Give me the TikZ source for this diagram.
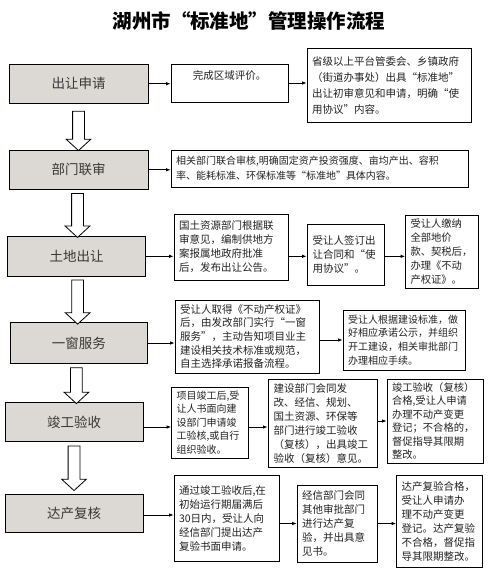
\documentclass[tikz,border=0pt]{standalone}
\usepackage{fontspec}
\setmainfont{Noto Sans CJK SC}
\usetikzlibrary{shapes.arrows,arrows.meta,calc}
\definecolor{boxgray}{HTML}{DCD8D3}
\definecolor{txt}{HTML}{222222}
\begin{document}
\begin{tikzpicture}[x=1pt,y=-1pt,
  stagebox/.style={draw=black, line width=0.9pt, fill=boxgray, inner sep=0pt,
    font=\fontsize{13.5}{16}\selectfont, text=txt!90},
  textbox/.style={draw=black, line width=0.8pt, fill=white, inner xsep=5pt, inner ysep=2pt,
    align=left, font=\fontsize{10.5}{14}\selectfont, text=txt},
  flowarrow/.style={draw=black, line width=0.8pt, -{Latex[length=4.5pt,width=3.5pt]}},
  downarrow/.style={draw=black, line width=0.8pt, fill=white, shape=single arrow,
    single arrow head extend=6.5pt, inner sep=5.5pt, single arrow tip angle=95,
    rotate=-90, anchor=center}
]
\useasboundingbox (0,0) rectangle (492,587);
\fill[white] (0,0) rectangle (492,587);

\node[font=\fontsize{19.5}{22}\bfseries\selectfont, text=black] (title) at (249,21) {湖州市“标准地”管理操作流程};

% stage boxes
\node[stagebox, minimum width=139pt, minimum height=38.7pt] (L1) at (78.5,83.7) {出让申请};
\node[stagebox, minimum width=139pt, minimum height=39pt] (L2) at (78.5,169.8) {部门联审};
\node[stagebox, minimum width=138pt, minimum height=39.3pt] (L3) at (76.5,256.3) {土地出让};
\node[stagebox, minimum width=137pt, minimum height=40.4pt] (L4) at (78.8,343) {一窗服务};
\node[stagebox, minimum width=138pt, minimum height=38.7pt] (L5) at (74,422) {竣工验收};
\node[stagebox, minimum width=138pt, minimum height=38.4pt] (L6) at (74,513.5) {达产复核};

% block arrows
\foreach \a/\b/\s/\e in {L1/L2/5/2,L2/L3/1/1.5,L3/L4/1/1,L4/L5/1.5/1.5,L5/L6/1.5/6}{
  \path let \p1=($(\a.south)+(0,\s)$), \p2=($(\b.north)+(0,-\e)$), \n1={veclen(\x2-\x1,\y2-\y1)} in
    node[downarrow, minimum height=\n1] (arr-\a) at ($(\p1)!0.5!(\p2)$) {};
}

% row 1
\node[textbox, text width=107pt, minimum width=117pt, minimum height=38pt, align=center, text depth=15pt] (A1) at (229.5,83) {完成区域评价。};
\node[textbox, text width=154pt, minimum width=164pt, minimum height=74pt, font=\fontsize{10.5}{16}\selectfont] (B1) at (389,85) {省级以上平台管委会、乡镇政府\\（街道办事处）出具“标准地”\\出让初审意见和申请，明确“使\\用协议”内容。};
% row 2
\node[textbox, text width=287pt, minimum width=297pt, minimum height=37pt, font=\fontsize{10}{15}\selectfont] (A2) at (319.5,168.5) {相关部门联合审核,明确固定资产投资强度、亩均产出、容积\\率、能耗标准、环保标准等“标准地”具体内容。};
% row 3
\node[textbox, text width=104pt, minimum width=114pt, minimum height=66pt] (A3) at (231,247) {国土资源部门根据联\\审意见，编制供地方\\案报属地政府批准\\后，发布出让公告。};
\node[textbox, text width=66pt, minimum width=77pt, minimum height=61pt] (B3) at (345.5,254.5) {受让人签订出\\让合同和“使\\用协议”。};
\node[textbox, text width=63pt, minimum width=72pt, minimum height=73pt, font=\fontsize{10.3}{14}\selectfont] (C3) at (442,251.5) {受让人缴纳\\全部地价\\款、契税后，\\办理《不动\\产权证》。};
% row 4
\node[textbox, text width=134pt, minimum width=144pt, minimum height=73pt, font=\fontsize{10.5}{13.6}\selectfont] (A4) at (247,336.5) {受让人取得《不动产权证》\\后，由发改部门实行“一窗\\服务”，主动告知项目业主\\建设相关技术标准或规范，\\自主选择承诺报备流程。};
\node[textbox, text width=112pt, minimum width=122pt, minimum height=60pt, font=\fontsize{10}{13.8}\selectfont] (B4) at (404,340) {受让人根据建设标准，做\\好相应承诺公示，并组织\\开工建设，相关审批部门\\办理相应手续。};
% row 5
\node[textbox, text width=67pt, minimum width=77pt, minimum height=71pt, font=\fontsize{10}{13.6}\selectfont] (A5) at (210,422.5) {项目竣工后,受\\让人书面向建\\设部门申请竣\\工验核,或自行\\组织验收。};
\node[textbox, text width=98pt, minimum width=109pt, minimum height=88pt] (B5) at (322.5,423.5) {建设部门会同发\\改、经信、规划、\\国土资源、环保等\\部门进行竣工验收\\（复核），出具竣工\\验收（复核）意见。};
\node[textbox, text width=86pt, minimum width=96pt, minimum height=84pt, font=\fontsize{10.3}{13.4}\selectfont] (C5) at (435,421) {竣工验收（复核）\\合格,受让人申请\\办理不动产变更\\登记；不合格的，\\督促指导其限期\\整改。};
% row 6
\node[textbox, text width=95pt, minimum width=105pt, minimum height=86pt] (A6) at (226.5,518.5) {通过竣工验收后,在\\初始运行期届满后\\30日内，受让人向\\经信部门提出达产\\复验书面申请。};
\node[textbox, text width=70pt, minimum width=80pt, minimum height=77pt] (B6) at (337,523.5) {经信部门会同\\其他审批部门\\进行达产复\\验，并出具意\\见书。};
\node[textbox, text width=76pt, minimum width=86pt, minimum height=92pt] (C6) at (439.5,521) {达产复验合格，\\受让人申请办\\理不动产变更\\登记。达产复验\\不合格，督促指\\导其限期整改。};

% horizontal connectors
\draw[flowarrow] (L1.east) -- (L1.east -| A1.west);
\draw[flowarrow] (A1.east) -- (A1.east -| B1.west);
\draw[flowarrow] (L2.east) -- (L2.east -| A2.west);
\draw[flowarrow] (L3.east) -- (L3.east -| A3.west);
\draw[flowarrow] (A3.east |- L3.east) -- (L3.east -| B3.west);
\draw[flowarrow] (B3.east |- L3.east) -- (L3.east -| C3.west);
\draw[flowarrow] (L4.east) -- (L4.east -| A4.west);
\draw[flowarrow] (A4.east |- B4.west) -- (B4.west);
\draw[flowarrow] ([yshift=-5pt]L5.east) -- ([yshift=-5pt]L5.east -| A5.west);
\draw[flowarrow] ([yshift=-5pt]A5.east |- L5.east) -- ([yshift=-5pt]L5.east -| B5.west);
\draw[flowarrow] (B5.east |- C5.west) -- (C5.west);
\draw[flowarrow] ([yshift=-1.5pt]L6.east) -- ([yshift=-1.5pt]L6.east -| A6.west);
\draw[flowarrow] (A6.east |- B6.west) -- (B6.west);
\draw[flowarrow] (B6.east |- B6.west) -- (B6.west -| C6.west);
\end{tikzpicture}
\end{document}
